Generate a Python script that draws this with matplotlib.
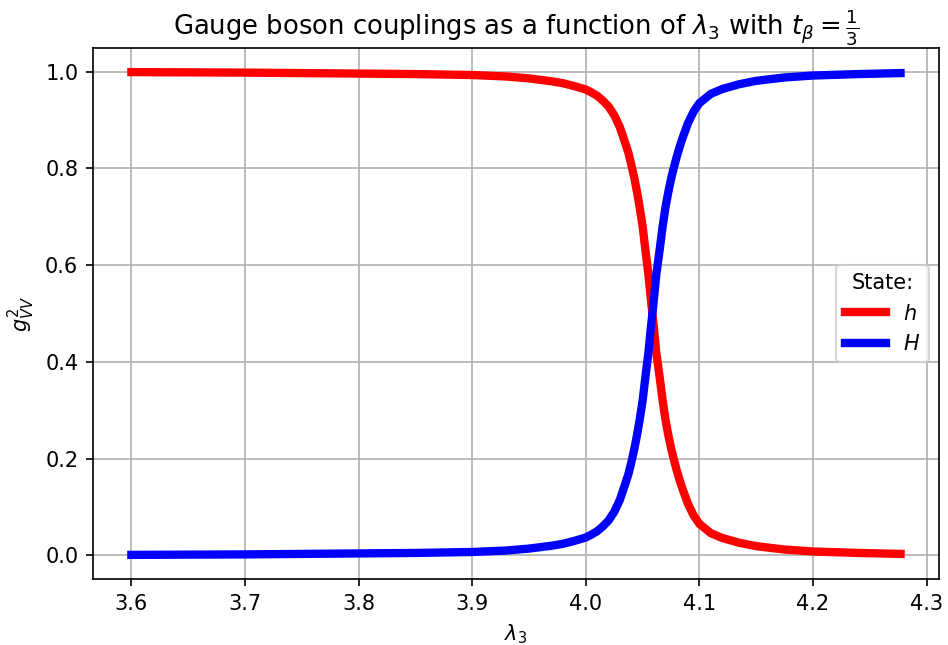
import matplotlib
matplotlib.use("Agg")
import matplotlib.pyplot as plt

# lambda_3 values
lam3 = [3.600, 3.700, 3.800, 3.850, 3.900, 3.930, 3.950, 3.970, 3.980, 3.990,
        4.000, 4.005, 4.010, 4.015, 4.020, 4.025, 4.030, 4.035, 4.0375, 4.040,
        4.0425, 4.045, 4.0475, 4.050, 4.0525, 4.055, 4.057, 4.0586, 4.060, 4.062,
        4.065, 4.0675, 4.070, 4.0725, 4.075, 4.0775, 4.080, 4.0825, 4.085, 4.090,
        4.095, 4.100, 4.110, 4.120, 4.135, 4.150, 4.175, 4.200, 4.240, 4.277]

# g^2_VV for h
g_h = [0.999, 0.998, 0.996, 0.995, 0.993, 0.990, 0.986, 0.980, 0.976, 0.970,
       0.963, 0.957, 0.950, 0.940, 0.928, 0.910, 0.885, 0.850, 0.832, 0.808,
       0.782, 0.752, 0.718, 0.680, 0.630, 0.583, 0.535, 0.500, 0.468, 0.420,
       0.368, 0.322, 0.282, 0.250, 0.222, 0.198, 0.176, 0.156, 0.138, 0.106,
       0.082, 0.065, 0.046, 0.036, 0.026, 0.019, 0.012, 0.008, 0.005, 0.003]

# g^2_VV for H
g_H = [0.001, 0.002, 0.004, 0.005, 0.007, 0.010, 0.014, 0.020, 0.024, 0.030,
       0.037, 0.043, 0.050, 0.060, 0.072, 0.090, 0.115, 0.150, 0.168, 0.192,
       0.218, 0.248, 0.282, 0.320, 0.370, 0.417, 0.465, 0.500, 0.532, 0.580,
       0.632, 0.678, 0.718, 0.750, 0.778, 0.802, 0.824, 0.844, 0.862, 0.894,
       0.918, 0.935, 0.954, 0.964, 0.974, 0.981, 0.988, 0.992, 0.995, 0.997]

labels = [r'$h$', r'$H$']
colors = ['red', 'blue']

fig = plt.figure(figsize=(6.32, 4.30), dpi=150)
ax = fig.add_subplot(111)
fig.subplots_adjust(left=0.098, right=0.9905, top=0.9256, bottom=0.1023)

for series, lab, col in zip([g_h, g_H], labels, colors):
    ax.plot(lam3, series, color=col, lw=4, label=lab)

ax.set_title(r'Gauge boson couplings as a function of $\lambda_3$ with $t_\beta = \frac{1}{3}$',
             fontsize=12.4)
ax.set_xlabel(r'$\lambda_3$')
ax.set_ylabel(r'$g^2_{VV}$')
ax.grid(True)
ax.legend(title='State:', loc='center right')

fig.savefig('out.png', dpi=150)
